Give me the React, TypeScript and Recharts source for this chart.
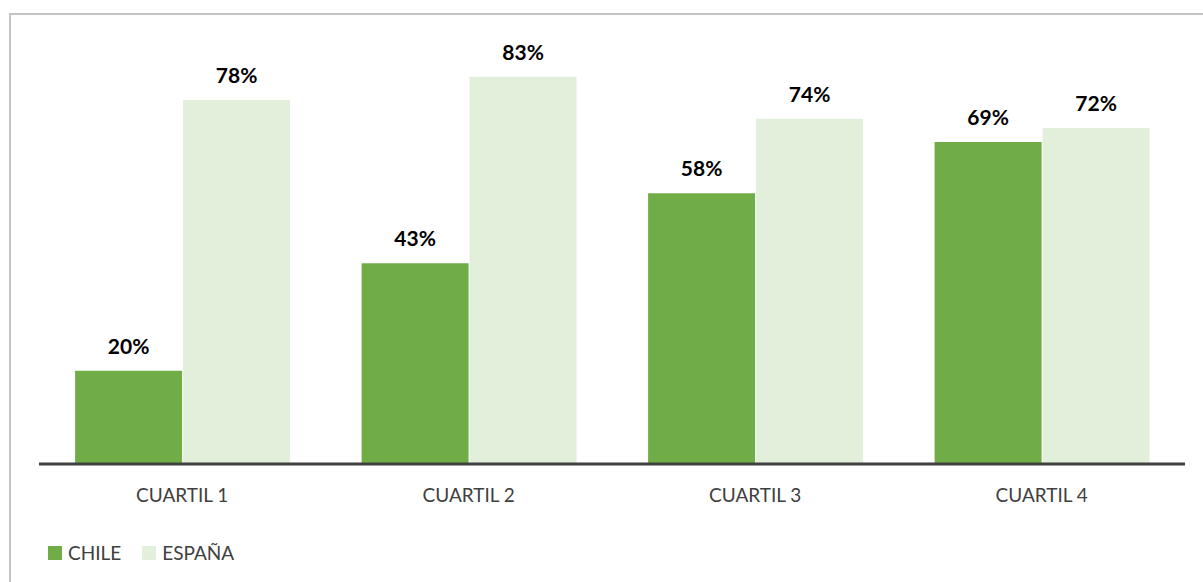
import { BarChart, Bar, XAxis, YAxis, LabelList } from 'recharts';

const categories = ['CUARTIL 1', 'CUARTIL 2', 'CUARTIL 3', 'CUARTIL 4'];
const chileValues = [20, 43, 58, 69];
const espanaValues = [78, 83, 74, 72];

const series = [
    { key: 'chile', name: 'CHILE', color: '#70ad47' },
    { key: 'espana', name: 'ESPAÑA', color: '#e2efda' },
];

const data = categories.map((name, i) => ({
    name,
    chile: chileValues[i],
    espana: espanaValues[i],
}));

const FONT = 'Lato, "Open Sans", sans-serif';

function ChartLegend() {
    return (
        <div
            style={{
                position: 'absolute',
                left: 48,
                top: 541,
                display: 'flex',
                alignItems: 'center',
                fontFamily: FONT,
                fontSize: 19,
                color: '#404040',
            }}
        >
            {series.map((s) => (
                <div key={s.key} style={{ display: 'flex', alignItems: 'center', marginRight: 21 }}>
                    <span style={{ width: 14, height: 14, background: s.color, display: 'inline-block', marginRight: 6 }} />
                    <span>{s.name}</span>
                </div>
            ))}
        </div>
    );
}

export default function App() {
    return (
        <div style={{ position: 'absolute', left: 0, top: 0, width: 1203, height: 582, overflow: 'hidden', background: '#fff' }}>
            <div
                style={{
                    position: 'absolute',
                    left: 9,
                    top: 13,
                    width: 1400,
                    height: 800,
                    border: '2px solid #c4c4c4',
                    boxSizing: 'border-box',
                }}
            />
            <div style={{ position: 'absolute', left: 0, top: 0 }}>
                <BarChart
                    width={1203}
                    height={582}
                    data={data}
                    margin={{ top: 44, right: 18, left: 39, bottom: 88 }}
                    barCategoryGap="12.6%"
                    barGap={1}
                >
                    <XAxis
                        dataKey="name"
                        height={30}
                        axisLine={{ stroke: '#404040', strokeWidth: 3 }}
                        tickLine={false}
                        tick={{ fill: '#404040', fontSize: 19, fontFamily: FONT }}
                        tickMargin={19}
                    />
                    <YAxis hide domain={[0, 90]} />
                    {series.map((s) => (
                        <Bar key={s.key} dataKey={s.key} name={s.name} fill={s.color} isAnimationActive={false}>
                            <LabelList
                                dataKey={s.key}
                                position="top"
                                offset={17}
                                formatter={(v: number) => `${v}%`}
                                style={{ fill: '#000', fontSize: 21, fontWeight: 700, fontFamily: FONT }}
                            />
                        </Bar>
                    ))}
                </BarChart>
            </div>
            <ChartLegend />
        </div>
    );
}
